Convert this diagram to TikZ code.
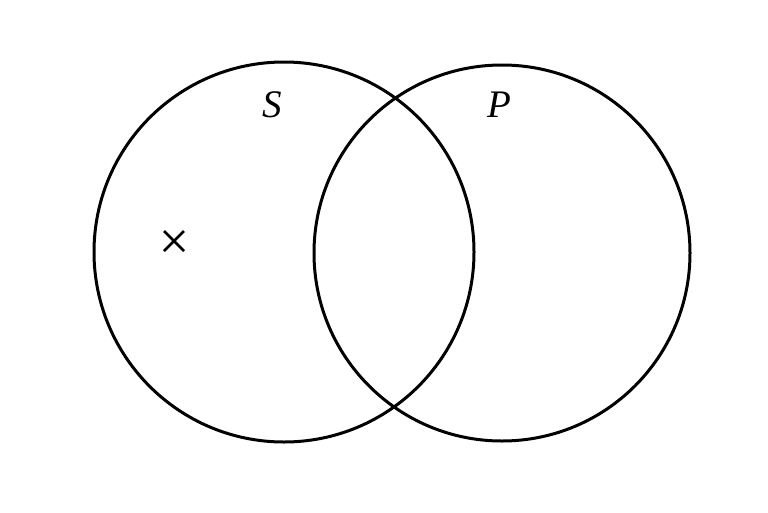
\documentclass[tikz,border=0pt]{standalone}
\usepackage{fontspec}
\setmainfont{Liberation Serif}
\usepackage{amsmath}
\usepackage{amssymb}
\usetikzlibrary{positioning,calc}

\tikzset{
    set/.style={line width=3pt},
    setlabel/.style={font=\fontsize{39}{44}\selectfont\itshape, inner sep=0pt}
}

\begin{document}
\begin{tikzpicture}[x=1pt,y=-1pt]

\useasboundingbox (0,0) rectangle (768,512);

\coordinate (S) at (284,252);
\coordinate (P) at (502,253);
\coordinate (x) at (174,241);

\draw [set] (S) circle (190);
\draw [set] (P) circle (188);

\node [setlabel] (labS) at (272,105) {S};
\node [setlabel] (labP) at (499,105) {P};

\draw [line width=2.5pt] ($(x)+(-10,-10)$) -- ($(x)+(10,10)$);
\draw [line width=2.5pt] ($(x)+(-10,10)$) -- ($(x)+(10,-10)$);

\end{tikzpicture}
\end{document}
